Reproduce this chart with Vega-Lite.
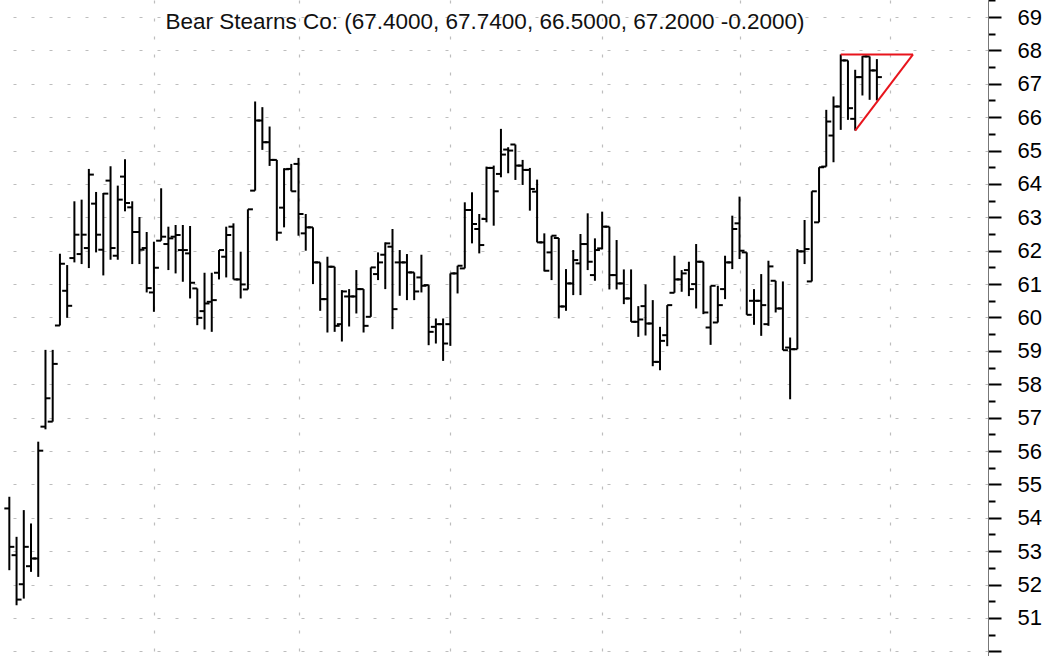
{
  "$schema": "https://vega.github.io/schema/vega-lite/v6.json",
  "width": 988,
  "height": 656,
  "autosize": {"type": "none"},
  "padding": {"left": 0, "top": 0, "right": 73, "bottom": 0},
  "background": "white",
  "config": {"view": {"stroke": null}},
  "title": {"text": "Bear Stearns Co: (67.4000, 67.7400, 66.5000, 67.2000 -0.2000)", "orient": "top", "anchor": "middle", "frame": "group", "offset": -44, "dx": -9, "font": "Liberation Sans", "fontSize": 22.5, "fontWeight": "normal", "color": "#111"},
  "datasets": {
    "bars": [
      {"day":0,"open":54.28,"high":54.63,"low":52.43,"close":53.13},
      {"day":1,"open":52.88,"high":53.43,"low":51.38,"close":51.55},
      {"day":2,"open":52.01,"high":54.23,"low":51.58,"close":53.13},
      {"day":3,"open":52.55,"high":53.83,"low":52.38,"close":52.78},
      {"day":4,"open":52.78,"high":56.28,"low":52.23,"close":56.01},
      {"day":5,"open":56.73,"high":59.03,"low":56.65,"close":57.58},
      {"day":6,"open":56.88,"high":59.03,"low":56.88,"close":58.61},
      {"day":7,"open":59.76,"high":61.91,"low":59.76,"close":61.61},
      {"day":8,"open":60.8,"high":61.57,"low":59.99,"close":60.35},
      {"day":9,"open":61.78,"high":63.48,"low":61.65,"close":62.48},
      {"day":10,"open":61.9,"high":63.53,"low":61.6,"close":62.48},
      {"day":11,"open":62.08,"high":64.45,"low":61.48,"close":64.28},
      {"day":12,"open":63.41,"high":63.76,"low":61.95,"close":62.48},
      {"day":13,"open":62.03,"high":63.73,"low":61.26,"close":63.71},
      {"day":14,"open":64.1,"high":64.53,"low":61.73,"close":62.08},
      {"day":15,"open":61.85,"high":63.95,"low":61.73,"close":63.53},
      {"day":16,"open":64.22,"high":64.74,"low":63.18,"close":63.43},
      {"day":17,"open":63.3,"high":63.48,"low":61.6,"close":62.56},
      {"day":18,"open":62.56,"high":63.01,"low":61.6,"close":62.03},
      {"day":19,"open":62.08,"high":62.56,"low":60.75,"close":60.88},
      {"day":20,"open":60.75,"high":62.27,"low":60.17,"close":61.49},
      {"day":21,"open":62.3,"high":63.87,"low":62.3,"close":62.42},
      {"day":22,"open":62.2,"high":62.72,"low":61.42,"close":62.37},
      {"day":23,"open":62.42,"high":62.77,"low":61.32,"close":62.47},
      {"day":24,"open":62.02,"high":62.77,"low":61.07,"close":62.02},
      {"day":25,"open":61.92,"high":62.74,"low":60.57,"close":61.04},
      {"day":26,"open":60.87,"high":60.87,"low":59.77,"close":59.99},
      {"day":27,"open":60.19,"high":61.34,"low":59.64,"close":60.42},
      {"day":28,"open":60.47,"high":61.34,"low":59.57,"close":60.52},
      {"day":29,"open":61.34,"high":62.02,"low":61.14,"close":62.02},
      {"day":30,"open":61.82,"high":62.72,"low":61.2,"close":62.47},
      {"day":31,"open":62.72,"high":62.82,"low":61.14,"close":61.14},
      {"day":32,"open":61.14,"high":61.97,"low":60.57,"close":60.99},
      {"day":33,"open":60.84,"high":63.24,"low":60.84,"close":63.24},
      {"day":34,"open":63.8,"high":66.47,"low":63.8,"close":65.9},
      {"day":35,"open":65.9,"high":66.3,"low":65.02,"close":65.25},
      {"day":36,"open":65.25,"high":65.72,"low":64.54,"close":64.72},
      {"day":37,"open":64.72,"high":64.72,"low":62.3,"close":62.54},
      {"day":38,"open":63.29,"high":64.47,"low":62.7,"close":64.44},
      {"day":39,"open":64.45,"high":64.6,"low":63.78,"close":63.78},
      {"day":40,"open":64.6,"high":64.78,"low":62.45,"close":63.1},
      {"day":41,"open":62.52,"high":63.1,"low":62.0,"close":62.7},
      {"day":42,"open":62.7,"high":62.7,"low":61.0,"close":61.65},
      {"day":43,"open":61.65,"high":61.65,"low":60.2,"close":60.55},
      {"day":44,"open":60.55,"high":61.82,"low":59.55,"close":61.52},
      {"day":45,"open":61.52,"high":61.52,"low":59.57,"close":59.75},
      {"day":46,"open":59.8,"high":60.82,"low":59.28,"close":60.78},
      {"day":47,"open":60.63,"high":60.85,"low":59.73,"close":60.63},
      {"day":48,"open":60.63,"high":61.42,"low":60.12,"close":60.85},
      {"day":49,"open":60.85,"high":60.85,"low":59.55,"close":59.75},
      {"day":50,"open":60.02,"high":61.5,"low":60.02,"close":61.5},
      {"day":51,"open":61.3,"high":61.95,"low":61.12,"close":61.65},
      {"day":52,"open":61.88,"high":62.25,"low":60.85,"close":62.22},
      {"day":53,"open":62.12,"high":62.65,"low":59.65,"close":60.25},
      {"day":54,"open":61.65,"high":62.02,"low":60.65,"close":61.65},
      {"day":55,"open":61.65,"high":61.9,"low":60.52,"close":61.35},
      {"day":56,"open":61.35,"high":61.35,"low":60.52,"close":60.78},
      {"day":57,"open":61.2,"high":61.88,"low":60.75,"close":60.95},
      {"day":58,"open":60.97,"high":60.97,"low":59.17,"close":59.57},
      {"day":59,"open":59.72,"high":59.97,"low":59.22,"close":59.8},
      {"day":60,"open":59.8,"high":59.97,"low":58.7,"close":59.22},
      {"day":61,"open":59.8,"high":61.32,"low":59.15,"close":61.32},
      {"day":62,"open":61.32,"high":61.55,"low":60.72,"close":61.55},
      {"day":63,"open":61.47,"high":63.45,"low":61.47,"close":63.22},
      {"day":64,"open":63.22,"high":63.75,"low":62.22,"close":62.8},
      {"day":65,"open":62.65,"high":63.1,"low":61.92,"close":62.17},
      {"day":66,"open":62.95,"high":64.52,"low":62.85,"close":64.48},
      {"day":67,"open":64.48,"high":64.55,"low":62.75,"close":63.78},
      {"day":68,"open":64.3,"high":65.65,"low":64.2,"close":64.88},
      {"day":69,"open":65.03,"high":65.1,"low":64.32,"close":65.0},
      {"day":70,"open":65.18,"high":65.18,"low":64.12,"close":64.55},
      {"day":71,"open":64.55,"high":64.72,"low":63.97,"close":64.42},
      {"day":72,"open":64.42,"high":64.48,"low":63.2,"close":63.85},
      {"day":73,"open":63.77,"high":64.13,"low":62.25,"close":62.25},
      {"day":74,"open":62.25,"high":62.52,"low":61.38,"close":61.4},
      {"day":75,"open":61.95,"high":62.45,"low":61.12,"close":62.45},
      {"day":76,"open":62.38,"high":62.38,"low":59.97,"close":60.33},
      {"day":77,"open":60.33,"high":61.45,"low":60.2,"close":61.02},
      {"day":78,"open":61.02,"high":62.02,"low":60.67,"close":61.72},
      {"day":79,"open":61.62,"high":62.5,"low":60.67,"close":62.2},
      {"day":80,"open":62.2,"high":63.12,"low":61.42,"close":61.67},
      {"day":81,"open":61.27,"high":62.37,"low":61.1,"close":62.02},
      {"day":82,"open":62.07,"high":63.17,"low":62.04,"close":62.72},
      {"day":83,"open":62.72,"high":62.72,"low":60.84,"close":61.27},
      {"day":84,"open":61.27,"high":62.32,"low":60.84,"close":61.02},
      {"day":85,"open":61.02,"high":61.44,"low":60.4,"close":60.57},
      {"day":86,"open":60.57,"high":61.44,"low":59.87,"close":59.87},
      {"day":87,"open":59.87,"high":60.34,"low":59.42,"close":59.94},
      {"day":88,"open":60.34,"high":60.99,"low":59.46,"close":59.82},
      {"day":89,"open":59.82,"high":60.52,"low":58.54,"close":58.67},
      {"day":90,"open":58.67,"high":59.72,"low":58.42,"close":59.3},
      {"day":91,"open":59.47,"high":60.37,"low":59.14,"close":60.37},
      {"day":92,"open":60.74,"high":61.85,"low":60.74,"close":61.14},
      {"day":93,"open":61.14,"high":61.42,"low":60.77,"close":61.32},
      {"day":94,"open":61.42,"high":61.67,"low":60.64,"close":60.85},
      {"day":95,"open":61.0,"high":62.2,"low":60.27,"close":61.67},
      {"day":96,"open":61.67,"high":61.67,"low":60.1,"close":60.15},
      {"day":97,"open":59.7,"high":60.95,"low":59.18,"close":60.95},
      {"day":98,"open":59.85,"high":60.95,"low":59.85,"close":60.37},
      {"day":99,"open":60.85,"high":61.85,"low":60.55,"close":61.65},
      {"day":100,"open":61.65,"high":63.05,"low":61.45,"close":62.65},
      {"day":101,"open":62.82,"high":63.62,"low":61.75,"close":62.0},
      {"day":102,"open":61.95,"high":61.95,"low":60.08,"close":60.08},
      {"day":103,"open":60.5,"high":60.85,"low":59.78,"close":60.5},
      {"day":104,"open":60.5,"high":61.3,"low":59.45,"close":60.37},
      {"day":105,"open":59.8,"high":61.7,"low":59.75,"close":61.53},
      {"day":106,"open":61.1,"high":61.1,"low":60.15,"close":60.27},
      {"day":107,"open":60.27,"high":61.08,"low":59.02,"close":59.02},
      {"day":108,"open":59.1,"high":59.4,"low":57.55,"close":59.05},
      {"day":109,"open":59.05,"high":62.05,"low":59.05,"close":61.98},
      {"day":110,"open":61.98,"high":62.92,"low":61.6,"close":62.05},
      {"day":111,"open":61.08,"high":63.78,"low":61.08,"close":63.78},
      {"day":112,"open":62.85,"high":64.5,"low":62.85,"close":64.5},
      {"day":113,"open":64.52,"high":66.22,"low":64.52,"close":65.87},
      {"day":114,"open":65.45,"high":66.62,"low":64.65,"close":66.32},
      {"day":115,"open":66.32,"high":67.88,"low":65.62,"close":67.7},
      {"day":116,"open":67.7,"high":67.7,"low":65.92,"close":66.27},
      {"day":117,"open":65.95,"high":67.42,"low":65.6,"close":67.2},
      {"day":118,"open":67.2,"high":67.83,"low":66.65,"close":67.82},
      {"day":119,"open":67.82,"high":67.82,"low":66.52,"close":67.4},
      {"day":120,"open":67.4,"high":67.74,"low":66.5,"close":67.2}
    ],
    "triangle": [
      {"d1":115,"p1":67.88,"d2":125,"p2":67.88},
      {"d1":117,"p1":65.6,"d2":125,"p2":67.88}
    ]
  },
  "layer": [
    {
      "data": {"name": "bars"},
      "mark": {"type": "rule", "color": "black", "strokeWidth": 2},
      "encoding": {
        "x": {"field": "day", "type": "quantitative",
              "scale": {"domain": [-1.29, 135.37], "nice": false, "zero": false},
              "axis": {"title": null, "labels": false, "ticks": false, "domain": false,
                       "values": [20, 40.1, 61, 82, 101, 121.8], "tickCount": 100,
                       "grid": true, "gridColor": "#bdbdbd", "gridDash": [3, 15], "gridWidth": 1.2}},
        "y": {"field": "low", "type": "quantitative",
              "scale": {"domain": [49.86, 69.51], "nice": false, "zero": false},
              "axis": {"orient": "right", "title": null, "tickCount": 200, "labelOverlap": false,
                       "values": [50,50.5,51,51.5,52,52.5,53,53.5,54,54.5,55,55.5,56,56.5,57,57.5,58,58.5,59,59.5,60,60.5,61,61.5,62,62.5,63,63.5,64,64.5,65,65.5,66,66.5,67,67.5,68,68.5,69,69.5],
                       "labelExpr": "datum.value % 1 === 0 && datum.value >= 51 ? format(datum.value, 'd') : ''",
                       "labelFont": "Liberation Sans", "labelFontSize": 22, "labelColor": "black",
                       "labelPadding": 16, "labelBound": false,
                       "tickSize": {"condition": {"test": "datum.value % 1 === 0", "value": 13}, "value": 7},
                       "tickColor": "black", "tickWidth": 2,
                       "domainColor": "#777", "domainWidth": 1,
                       "grid": true, "gridColor": "#bdbdbd", "gridDash": [3, 15], "gridWidth": 1.2,
                       "gridOpacity": {"condition": {"test": "datum.value % 1 === 0", "value": 1}, "value": 0}}},
        "y2": {"field": "high"}
      }
    },
    {
      "data": {"name": "bars"},
      "mark": {"type": "tick", "orient": "horizontal", "color": "black", "size": 5, "thickness": 2, "xOffset": -2.5, "opacity": 1},
      "encoding": {
        "x": {"field": "day", "type": "quantitative"},
        "y": {"field": "open", "type": "quantitative"}
      }
    },
    {
      "data": {"name": "bars"},
      "mark": {"type": "tick", "orient": "horizontal", "color": "black", "size": 5, "thickness": 2, "xOffset": 2.5, "opacity": 1},
      "encoding": {
        "x": {"field": "day", "type": "quantitative"},
        "y": {"field": "close", "type": "quantitative"}
      }
    },
    {
      "data": {"name": "triangle"},
      "mark": {"type": "rule", "color": "#e8141c", "strokeWidth": 2},
      "encoding": {
        "x": {"field": "d1", "type": "quantitative"},
        "x2": {"field": "d2"},
        "y": {"field": "p1", "type": "quantitative"},
        "y2": {"field": "p2"}
      }
    }
  ]
}
